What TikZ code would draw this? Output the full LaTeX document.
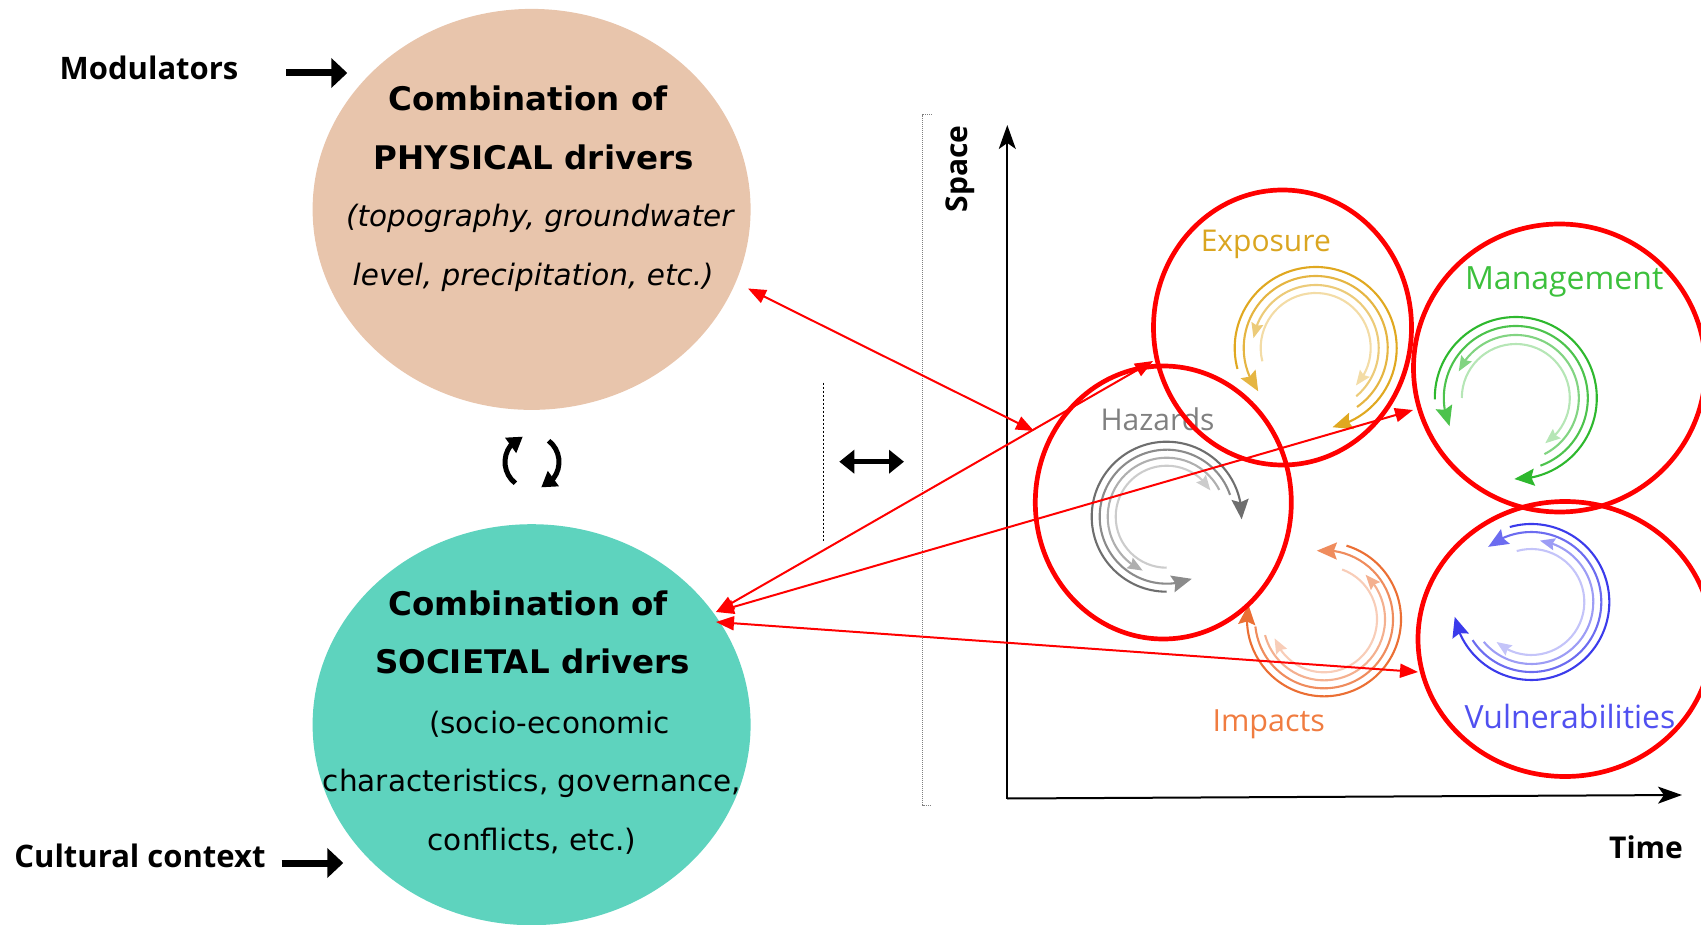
\documentclass[tikz,border=0pt]{standalone}
\usepackage{fontspec}
\setmainfont{DejaVu Sans}
\newfontfamily\lblfont{Open Sans}
\usetikzlibrary{arrows.meta,shapes.geometric,bending}

\definecolor{physfill}{HTML}{E8C5AC}
\definecolor{socfill}{HTML}{5ED3BE}
\definecolor{hzbase}{HTML}{6E6E6E}
\definecolor{exbase}{HTML}{E0A820}
\definecolor{mgbase}{HTML}{2EB82E}
\definecolor{imbase}{HTML}{EB6F34}
\definecolor{vubase}{HTML}{3B3BEB}
\definecolor{hzlbl}{HTML}{808080}
\definecolor{exlbl}{HTML}{DAA520}
\definecolor{mglbl}{HTML}{3CC03C}
\definecolor{imlbl}{HTML}{F07C40}
\definecolor{vulbl}{HTML}{5050F0}

% one arc of a cycle symbol: style, centre, radius, start angle, end angle
\newcommand{\cyclearc}[5]{%
  \draw[#1] (#2) ++(#4:#3) arc[start angle=#4, end angle=#5, radius=#3];}

\tikzset{
  drivertxt/.style={inner sep=0pt, anchor=base, font=\fontsize{29.5}{34}\selectfont},
  driverhead/.style={inner sep=0pt, anchor=base, font=\bfseries\fontsize{32.5}{38}\selectfont},
  driverital/.style={inner sep=0pt, anchor=base, font=\itshape\fontsize{29.5}{34}\selectfont},
  sidelbl/.style={inner sep=0pt, anchor=base, font=\lblfont\bfseries\fontsize{31}{36}\selectfont},
  axlbl/.style={inner sep=0pt, font=\lblfont\bfseries\fontsize{30}{36}\selectfont},
  grplbl/.style={inner sep=0pt, anchor=base, font=\lblfont\fontsize{30}{36}\selectfont},
  fatarrow/.style={line width=7pt, -{Triangle[length=16pt,width=29pt]}},
  turnarrow/.style={line width=5pt, -{Triangle[length=15pt,width=18pt]}},
  swaparrow/.style={line width=5.5pt, {Triangle[length=15pt,width=23pt]}-{Triangle[length=15pt,width=23pt]}},
  axisline/.style={line width=2pt, -{Stealth[length=24pt,width=17pt,inset=6pt]}},
  ring/.style={ellipse, draw=red, line width=4.7pt, inner sep=0pt},
  redlink/.style={red, line width=2pt, {Triangle[length=18pt,width=14pt]}-{Triangle[length=18pt,width=14pt]}},
  arcl/.style={line width=2.1pt},
  bighead/.style={arcl, -{Stealth[length=20pt,width=17pt,inset=3pt]}},
  smallhead/.style={arcl, -{Stealth[length=15pt,width=12pt,inset=2pt]}},
}

\begin{document}
\begin{tikzpicture}[x=1pt,y=-1pt]
\useasboundingbox (0,0) rectangle (1701,925);
\clip (0,0) rectangle (1701,925);

% the two driver ellipses
\node[ellipse, fill=physfill, minimum width=438pt, minimum height=401pt, inner sep=0pt] (phys) at (531.6,209.4) {};
\node[ellipse, fill=socfill, minimum width=438pt, minimum height=401pt, inner sep=0pt] (soc) at (531.6,724.7) {};

\node[driverhead] (p1) at (528,110.6) {Combination of};
\node[driverhead] (p2) at (533.7,169.2) {PHYSICAL drivers};
\node[driverital] (p3) at (539.7,226.5) {(topography, groundwater};
\node[driverital] (p4) at (533.2,285.1) {level, precipitation, etc.)};

\node[driverhead] (s1) at (528.3,615) {Combination of};
\node[driverhead] (s2) at (532.6,673.6) {SOCIETAL drivers};
\node[drivertxt] (s3) at (549.5,733) {(socio-economic};
\node[drivertxt] (s4) at (532,791.6) {characteristics, governance,};
\node[drivertxt] (s5) at (532,850.2) {conflicts, etc.)};

% modulators and cultural context
\node[sidelbl] (mod) at (149,80) {Modulators};
\node[sidelbl] (cult) at (140,867.7) {Cultural context};
\coordinate (modS) at (286,73);
\coordinate (modE) at (347.3,73);
\coordinate (cultS) at (281.7,863);
\coordinate (cultE) at (343.3,863);
\draw[fatarrow] (modS) -- (modE);
\draw[fatarrow] (cultS) -- (cultE);

% mutual influence between the drivers
\coordinate (rc) at (532,462);
\draw[turnarrow] (rc) ++(128:27) arc[start angle=128, end angle=250, radius=27];
\draw[turnarrow] (rc) ++(-52:27) arc[start angle=-52, end angle=70, radius=27];

% scale link and separators
\coordinate (dotT) at (823.3,382.7);
\coordinate (dotB) at (823.3,541.7);
\draw[line width=1.6pt, dash pattern=on 2pt off 2pt] (dotT) -- (dotB);
\coordinate (swL) at (839.3,461.7);
\coordinate (swR) at (904,461.7);
\draw[swaparrow] (swL) -- (swR);
\coordinate (brT) at (931.5,115);
\coordinate (brB) at (931.5,805);
\draw[gray, line width=1pt, dash pattern=on 1pt off 1pt] (brT) -- ++(-8.8,0) |- (brB);

% space-time axes
\coordinate (org) at (1007.3,798.5);
\coordinate (ytip) at (1007.3,125);
\coordinate (xtip) at (1682,795);
\draw[axisline] (org) -- (ytip);
\draw[axisline] (org) -- (xtip);
\node[axlbl, rotate=90] (spc) at (960,169) {Space};
\node[axlbl, anchor=base] (tm) at (1646,858) {Time};

% group labels
\node[grplbl, text=exlbl] (exL) at (1265.8,251.7) {Exposure};
\node[grplbl, text=mglbl, font=\lblfont\fontsize{32}{36}\selectfont] (mgL) at (1564.2,289.3) {Management};
\node[grplbl, text=hzlbl] (hzL) at (1157.5,430) {Hazards};
\node[grplbl, text=imlbl, font=\lblfont\fontsize{30.5}{36}\selectfont] (imL) at (1268.7,731.7) {Impacts};
\node[grplbl, text=vulbl, font=\lblfont\fontsize{32}{36}\selectfont] (vuL) at (1570,728.3) {Vulnerabilities};

% cycle symbols
\coordinate (hzc) at (1166.7,516.7);
\cyclearc{bighead, hzbase}{hzc}{75}{90}{362}
\cyclearc{bighead, hzbase!80!white}{hzc}{67}{341}{68}
\cyclearc{smallhead, hzbase!55!white}{hzc}{59}{333}{114}
\cyclearc{smallhead, hzbase!35!white}{hzc}{51}{90}{329}

\coordinate (exc) at (1315.7,348);
\cyclearc{bighead, exbase}{exc}{81}{165}{438}
\cyclearc{bighead, exbase!85!white}{exc}{72}{55}{-217}
\cyclearc{smallhead, exbase!60!white}{exc}{63}{50}{-171}
\cyclearc{smallhead, exbase!40!white}{exc}{55}{166}{403}

\coordinate (mgc) at (1515.8,398);
\cyclearc{bighead, mgbase}{mgc}{81}{179}{451}
\cyclearc{bighead, mgbase!85!white}{mgc}{72}{70}{-203}
\cyclearc{smallhead, mgbase!60!white}{mgc}{63}{63}{-155}
\cyclearc{smallhead, mgbase!35!white}{mgc}{54}{180}{417}

\coordinate (imc) at (1324,619.3);
\cyclearc{bighead, imbase}{imc}{77}{287}{551}
\cyclearc{bighead, imbase!80!white}{imc}{69}{174}{-96}
\cyclearc{smallhead, imbase!55!white}{imc}{61}{165}{-47}
\cyclearc{smallhead, imbase!35!white}{imc}{53}{290}{519}

\coordinate (vuc) at (1531.3,602);
\cyclearc{bighead, vubase}{vuc}{78}{254}{529}
\cyclearc{bighead, vubase!75!white}{vuc}{70}{147}{-128}
\cyclearc{smallhead, vubase!50!white}{vuc}{62}{140}{-82}
\cyclearc{smallhead, vubase!30!white}{vuc}{53}{254}{491}

% red rings
\node[ring, minimum width=256pt, minimum height=273pt] (hzR) at (1163.3,502.5) {};
\node[ring, minimum width=258pt, minimum height=275pt] (exR) at (1282.5,327.5) {};
\node[ring, minimum width=292pt, minimum height=288pt] (mgR) at (1559.5,368) {};
\node[ring, minimum width=294pt, minimum height=275pt] (vuR) at (1565,639) {};

% links between drivers and components
\coordinate (physA) at (748,288.5);
\coordinate (hzA) at (1034,431);
\coordinate (socA) at (716,612);
\coordinate (exA) at (1153,361);
\coordinate (mgA) at (1413,410);
\coordinate (socB) at (716,622);
\coordinate (vuA) at (1418,672);
\draw[redlink] (physA) -- (hzA);
\draw[redlink] (socA) -- (exA);
\draw[redlink] (socA) -- (mgA);
\draw[redlink] (socB) -- (vuA);
\end{tikzpicture}
\end{document}
